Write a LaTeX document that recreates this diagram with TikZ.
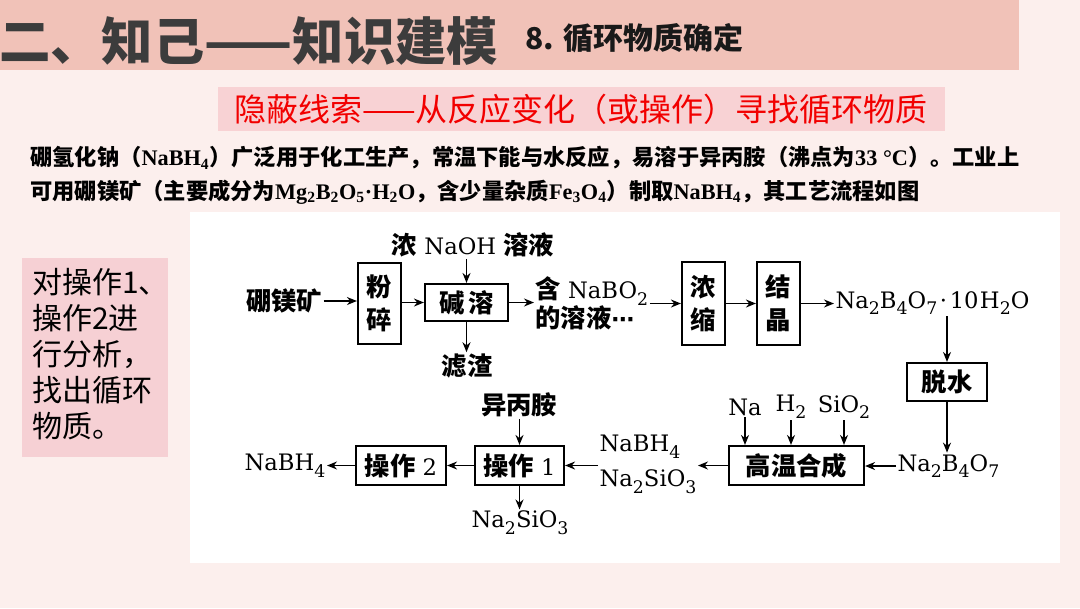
\documentclass[tikz,border=0pt]{standalone}
\usepackage{fontspec}
\usetikzlibrary{arrows.meta}
\newfontfamily\cjk{Noto Sans CJK SC}
\newfontfamily\tms{Liberation Serif}
\newfontfamily\dvs{DejaVu Serif}
\newfontfamily\dvsans{DejaVu Sans}
\definecolor{bgc}{HTML}{FCEFED}
\definecolor{bandc}{HTML}{F1C2B8}
\definecolor{subc}{HTML}{F8D2D4}
\definecolor{leftc}{HTML}{F6D0D4}
\definecolor{titlec}{HTML}{3C3C3C}
\definecolor{redc}{HTML}{F20000}
\newcommand\zhs[1]{{\fontsize{19}{25}\selectfont\cjk\bfseries #1}}
\newcommand\sbs[1]{\textsubscript{#1}}
\newcommand\dsb[1]{\raisebox{-0.3em}{\fontsize{13}{13}\selectfont #1}}
\newcommand\tb[1]{{\tms\bfseries #1}}
\newcommand\dfont{\fontsize{17}{25}\selectfont\dvs}
\begin{document}
\begin{tikzpicture}[x=0.75pt,y=-0.75pt,
  arr/.style={-{Stealth[length=7.5pt,width=6pt]}, line width=1.1pt},
  box/.style={draw, line width=1.6pt, inner sep=0pt, font=\dfont, align=center},
  lbl/.style={inner sep=1pt, font=\dfont},
  para/.style={inner sep=0pt, anchor=west, font=\fontsize{16.7}{20}\selectfont\cjk\bfseries},
]
\useasboundingbox (0,0) rectangle (1080,608);
% backgrounds
\fill[bgc] (0,0) rectangle (1080,608);
\fill[bandc] (0,0) rectangle (1019,70);
\fill[subc] (218,87) rectangle (945,131);
\fill[leftc] (22,258) rectangle (168,457);
\fill[white] (190,212) rectangle (1060,563);

% title texts
\node[inner sep=0pt, anchor=west, text=titlec, font=\fontsize{38.5}{40}\selectfont\cjk\bfseries] (title) at (-1,41) {二、知己——知识建模};
\node[inner sep=0pt, anchor=west, text=black!90, font=\fontsize{22.5}{24}\selectfont\cjk\bfseries] (sub) at (525,38) {8. 循环物质确定};
\node[inner sep=0pt, text=redc, font=\fontsize{24}{26}\selectfont\cjk] (clue) at (581,109) {隐蔽线索——从反应变化（或操作）寻找循环物质};

% paragraph
\node[para] (p1) at (30,158) {硼氢化钠（\tb{NaBH\sbs{4}}）广泛用于化工生产，常温下能与水反应，易溶于异丙胺（沸点为\tb{33 °C}）。工业上};
\node[para] (p2) at (30,192) {可用硼镁矿（主要成分为\tb{Mg\sbs{2}B\sbs{2}O\sbs{5}·H\sbs{2}O}，含少量杂质\tb{Fe\sbs{3}O\sbs{4}}）制取\tb{NaBH\sbs{4}}，其工艺流程如图};

% left box text
\node[inner sep=0pt, anchor=west, align=left, font=\fontsize{22.5}{27}\selectfont\cjk] (task) at (32,354) {对操作1、\\操作2进\\行分析，\\找出循环\\物质。};

% flow chart, upper row
\node[lbl] (ore) at (284,301) {\zhs{硼镁矿}};
\node[box, minimum width=32.25pt, minimum height=60.75pt] (fs) at (379.5,303.5) {\zhs{粉}\\\zhs{碎}};
\node[box, minimum width=62.25pt, minimum height=27.75pt] (jr) at (466.5,302.5) {\zhs{碱\hspace{3pt}溶}};
\node[lbl] (naoh) at (473,245) {\zhs{浓} NaOH \zhs{溶液}};
\node[lbl] (lz) at (467,366) {\zhs{滤渣}};
\node[lbl, anchor=west, align=left, font=\fontsize{17}{22}\selectfont\dvs] (soln) at (534,303.5) {\zhs{含} NaBO\dsb{2}\\\zhs{的溶液}{\dvsans\bfseries ⋯}};
\node[box, minimum width=32.25pt, minimum height=62.25pt] (ns) at (703.5,303.5) {\zhs{浓}\\\zhs{缩}};
\node[box, minimum width=32.25pt, minimum height=62.25pt] (jj) at (778.5,303.5) {\zhs{结}\\\zhs{晶}};
\node[lbl, anchor=west] (nbo10) at (834,303) {Na\dsb{2}B\dsb{4}O\dsb{7}\hspace{2pt}·\hspace{2pt}10\hspace{1pt}H\dsb{2}O};
\node[box, minimum width=60pt, minimum height=28.5pt] (ts) at (947,382) {\zhs{脱水}};

% lower row
\node[lbl, anchor=west] (nbo) at (896,466) {Na\dsb{2}B\dsb{4}O\dsb{7}};
\node[box, minimum width=101.25pt, minimum height=29.25pt] (gw) at (796.5,465.5) {\zhs{高温合成}};
\node[lbl] (na) at (745,407) {Na};
\node[lbl] (h2) at (791,407) {H\dsb{2}};
\node[lbl] (sio2) at (844,407) {SiO\dsb{2}};
\node[lbl, anchor=west, align=left, font=\fontsize{17}{26}\selectfont\dvs] (nbh) at (598,464.5) {NaBH\dsb{4}\\Na\dsb{2}SiO\dsb{3}};
\node[box, minimum width=66.75pt, minimum height=29.25pt] (op1) at (519.5,465.5) {\zhs{操作} 1};
\node[lbl] (ybA) at (519,405) {\zhs{异丙胺}};
\node[lbl] (nss) at (520,523) {Na\dsb{2}SiO\dsb{3}};
\node[box, minimum width=67.5pt, minimum height=29.25pt] (op2) at (401,465.5) {\zhs{操作} 2};
\node[lbl, anchor=east] (nabh4) at (327,466) {NaBH\dsb{4}};

% connectors
\draw[arr] (ore.east) -- (fs.west |- ore.east);
\draw[arr] (fs.east |- jr.west) -- (jr.west);
\draw[arr] (naoh.south -| jr.north) -- (jr.north);
\draw[arr] (jr.south) -- (lz.north -| jr.south);
\draw[arr] (jr.east) -- (soln.west |- jr.east);
\draw[arr] (soln.east) -- (ns.west);
\draw[arr] (ns.east) -- (jj.west);
\draw[arr] (jj.east) -- (nbo10.west |- jj.east);
\draw[arr] (nbo10.south -| ts.north) -- (ts.north);
\draw[arr] (ts.south) -- (ts.south |- nbo.north);
\draw[arr] (nbo.west) -- (gw.east |- nbo.west);
\draw[arr] (na.south) -- (na.south |- gw.north);
\draw[arr] (h2.south) -- (h2.south |- gw.north);
\draw[arr] (sio2.south) -- (sio2.south |- gw.north);
\draw[arr] (gw.west) -- (nbh.east |- gw.west);
\draw[arr] (nbh.west |- op1.east) -- (op1.east);
\draw[arr] (ybA.south -| op1.north) -- (op1.north);
\draw[arr] (op1.south) -- (nss.north -| op1.south);
\draw[arr] (op1.west) -- (op2.east);
\draw[arr] (op2.west) -- (nabh4.east |- op2.west);
\end{tikzpicture}
\end{document}
